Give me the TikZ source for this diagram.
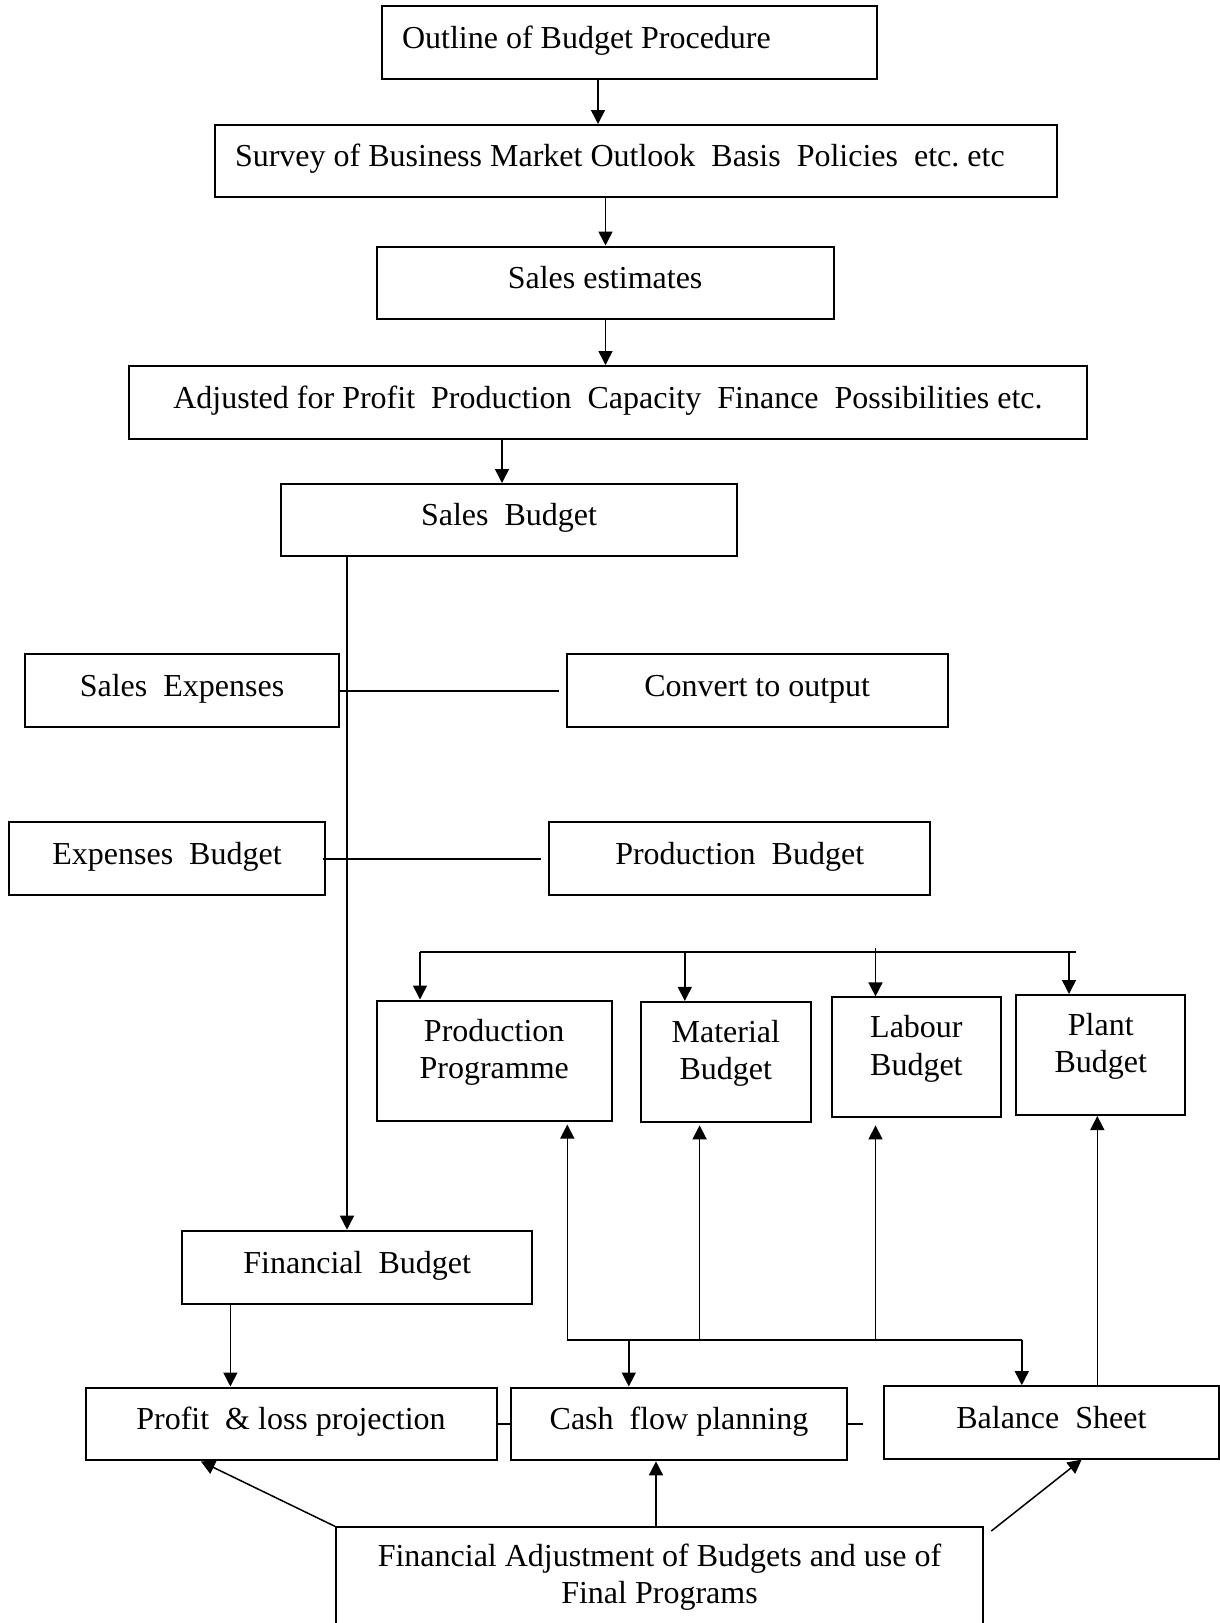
\documentclass[tikz,border=0pt]{standalone}
\usepackage{fontspec}
\setmainfont{Liberation Serif}
\usetikzlibrary{arrows.meta}
\newcommand\chartfont{\fontsize{16}{18.6}\selectfont}
\frenchspacing
\tikzset{
  box/.style={draw, line width=1pt, inner sep=0pt, font=\chartfont, text height=11pt, text depth=5.2pt},
  leftbox/.style={box, align=flush left, inner xsep=10pt},
  tallbox/.style={draw, line width=1pt, inner sep=0pt, font=\chartfont, align=center, text depth=12pt},
  arr/.style={line width=0.75pt, -{Triangle[length=7pt,width=7pt]}},
  link/.style={line width=0.75pt},
  thicklink/.style={line width=0.9pt}
}

\begin{document}
\begin{tikzpicture}[x=0.5pt,y=-0.5pt]
\useasboundingbox (0,0) rectangle (1220,1623);

\node[leftbox, text width=227.5pt, minimum height=36.5pt] (outline) at (629.5,42.5) {Outline of Budget Procedure};
\node[leftbox, text width=401pt, minimum height=36pt] (survey) at (636,161) {Survey of Business Market Outlook~ Basis~ Policies~ etc. etc};
\node[box, minimum width=228.4pt, minimum height=36pt] (estimate) at (605.1,282.5) {Sales estimates};
\node[box, minimum width=479pt, minimum height=36.3pt] (adjust) at (608,402.3) {Adjusted for Profit~ Production~ Capacity~ Finance~ Possibilities etc.};
\node[box, minimum width=228pt, minimum height=36pt] (salesbud) at (509,520) {Sales~ Budget};

\node[box, minimum width=157pt, minimum height=36.4pt] (salesexp) at (182,690.6) {Sales~ Expenses};
\node[box, minimum width=190.7pt, minimum height=36.4pt] (convert) at (757.2,690.6) {Convert to output};
\node[box, minimum width=157.6pt, minimum height=36.3pt] (expbud) at (167,858.7) {Expenses~ Budget};
\node[box, minimum width=190.3pt, minimum height=36.3pt] (prodbud) at (739.7,858.7) {Production~ Budget};

\node[tallbox, minimum width=117.5pt, minimum height=60pt] (progr) at (494.2,1060.5) {Production\\Programme};
\node[tallbox, minimum width=85.3pt, minimum height=60pt] (material) at (725.8,1061.9) {Material\\Budget};
\node[tallbox, minimum width=84.4pt, minimum height=60pt] (labour) at (916.4,1057.4) {Labour\\Budget};
\node[tallbox, minimum width=84.5pt, minimum height=60pt] (plant) at (1100.8,1055) {Plant\\Budget};

\node[box, minimum width=175.2pt, minimum height=36.5pt] (finbud) at (357.2,1267.2) {Financial~ Budget};
\node[box, minimum width=205.5pt, minimum height=36.4pt] (profit) at (291,1423.9) {Profit~ \& loss projection};
\node[box, minimum width=167.7pt, minimum height=36.4pt] (cash) at (679,1423.9) {Cash~ flow planning};
\node[box, minimum width=167.4pt, minimum height=36.2pt] (balance) at (1051.4,1422.3) {Balance~ Sheet};
\node[tallbox, text depth=4pt, minimum width=323.4pt, minimum height=50pt] (finadj) at (659.5,1577.4) {Financial Adjustment of Budgets and use of\\Final Programs};

\draw[arr] (outline.south -| 598,0) -- (survey.north -| 598,0);
\draw[arr] (survey.south -| 605.5,0) -- (estimate.north -| 605.5,0);
\draw[arr] (estimate.south -| 605.5,0) -- (adjust.north -| 605.5,0);
\draw[arr] (adjust.south -| 502,0) -- (salesbud.north -| 502,0);
\draw[arr] (salesbud.south -| 347,0) -- (finbud.north -| 347,0);

\draw[thicklink] (salesexp.east) -- ([xshift=-3.5pt]convert.west);
\draw[thicklink] ([xshift=-1.5pt]expbud.east) -- ([xshift=-3.5pt]prodbud.west);

\coordinate (busleft) at (420,952);
\coordinate (busright) at (1075.5,952);
\coordinate (labourtop) at (875.5,948);
\draw[thicklink] (busleft) -- (busright);
\draw[arr] (busleft) -- (progr.north -| busleft);
\draw[arr] (busleft -| 684.8,0) -- (material.north -| 684.8,0);
\draw[arr] (labourtop) -- (labour.north -| labourtop);
\draw[arr] (busright -| 1069,0) -- (plant.north -| 1069,0);

\coordinate (lowleft) at (567.3,1339.7);
\coordinate (lowright) at (1021.8,1339.7);
\draw[thicklink] (lowleft) -- (lowright);
\draw[arr, shorten >=1.5pt] (lowleft) -- (progr.south -| lowleft);
\draw[arr, shorten >=1.2pt] (lowleft -| 699.6,0) -- (material.south -| 699.6,0);
\draw[arr, shorten >=3.5pt] (lowleft -| 875.5,0) -- (labour.south -| 875.5,0);
\draw[arr] (lowleft -| 628.8,0) -- (cash.north -| 628.8,0);
\draw[arr] (lowright) -- (balance.north -| lowright);
\draw[arr] (balance.north -| 1097.3,0) -- (plant.south -| 1097.3,0);

\draw[arr] (finbud.south -| 230.4,0) -- (profit.north -| 230.4,0);
\draw[thicklink] (profit.east) -- (cash.west);
\draw[thicklink] (cash.east) -- ([xshift=7.5pt]cash.east);

\draw[arr] (finadj.north west) -- (profit.south -| 200.8,0);
\draw[arr] (finadj.north -| 656,0) -- (cash.south -| 656,0);
\draw[arr] ([xshift=3.7pt,yshift=-2.3pt]finadj.north east) -- (balance.south -| 1081.7,0);
\end{tikzpicture}
\end{document}
